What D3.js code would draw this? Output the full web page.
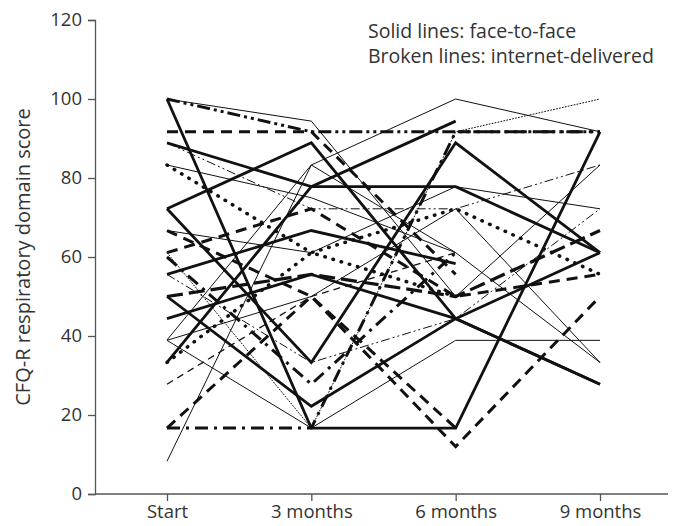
<!DOCTYPE html>
<html><head><meta charset="utf-8">
<script src="https://cdn.jsdelivr.net/npm/d3@7/dist/d3.min.js"></script>
<style>body{margin:0;background:#fff}svg{display:block}text{font-family:"Open Sans",Roboto,sans-serif;fill:#333}</style>
</head><body><svg id="c" width="682" height="526"></svg>
<script>
const categories = ["Start", "3 months", "6 months", "9 months"];
const yTicks = [0, 20, 40, 60, 80, 100, 120];
// One row per patient: scores at Start, 3, 6, 9 months (null = missing)
const patients = [
  [100, 94.4, 50, 83.3],
  [100, 91.7, 91.7, 91.7],
  [100, 16.7, 16.7, 91.7],
  [91.7, 91.7, 55.6, null],
  [88.9, 77.8, 77.8, 61.1],
  [72.2, 88.9, 44.4, 27.8],
  [72.2, 33.3, 88.9, 61.1],
  [33.3, 77.8, 94.4, null],
  [8.3, 83.3, 100, 91.7],
  [16.7, 16.7, 91.7, 91.7],
  [61.1, 16.7, 91.7, 100],
  [83.3, 75, 61.1, 33.3],
  [83.3, 61.1, 72.2, 55.6],
  [88.9, 72.2, 72.2, 83.3],
  [66.7, 61.1, 77.8, 72.2],
  [38.9, 16.7, 38.9, 38.9],
  [61.1, 72.2, 50, 55.6],
  [50, 55.6, 50, 66.7],
  [55.6, 66.7, 58.3, null],
  [50, 22.2, 44.4, 61.1],
  [44.4, 55.6, 44.4, 27.8],
  [38.9, 50, 72.2, 33.3],
  [60, 27.8, 61.1, null],
  [16.7, 50, 12, 50],
  [66.7, 50, 16.7, null],
  [27.8, 50, 61.1, null],
  [55.6, 33.3, 44.4, 72.2],
  [33.3, 61.1, 50, null],
  [39, 83.3, 61.1, null]
];
// Line pattern per patient (solid = face-to-face, broken = internet-delivered)
const patterns = [
  "thin", "dashdotdotThick", "thick", "dashThick", "thick", "thick", "thick", "thick",
  "thin", "dashdotThick", "dotThin", "thin", "dotThick", "dashdotdotThin", "thin", "thin",
  "dashThick", "dashLongThick", "thick", "thick", "thick", "thin", "dashdotThick", "dashThick",
  "dashThick", "dashThin", "dashdotdotThin", "dotThick", "thin"
];
const styleTable = {
  thin: {w: 1, d: null},
  thick: {w: 2.8, d: null},
  dashThick: {w: 3, d: "11,7"},
  dashLongThick: {w: 3.2, d: "16,6"},
  dashThin: {w: 1.3, d: "7,5"},
  dashdotThick: {w: 3, d: "13,6,3,6"},
  dashdotdotThick: {w: 3, d: "13,4,3,4,3,4"},
  dashdotdotThin: {w: 1, d: "9,3,2,3,2,3"},
  dotThick: {w: 3.5, d: "0.5,8"},
  dotThin: {w: 1, d: "1,2"}
};

const FONT = '"Open Sans",Roboto,sans-serif';
const svg = d3.select("#c");
const x = d3.scalePoint().domain(categories).range([167, 600]);
const y = d3.scaleLinear().domain([0, 120]).range([494, 20]);

const yAxis = svg.append("g").attr("transform", "translate(95,0)")
  .call(d3.axisLeft(y).tickValues(yTicks).tickSize(7).tickPadding(6));
const xAxis = svg.append("g").attr("transform", "translate(0,494)")
  .call(d3.axisBottom(x).tickSize(7).tickPadding(4));
xAxis.select(".domain").attr("d", "M95,0H668");
[yAxis, xAxis].forEach(g => {
  g.selectAll("path,line").attr("stroke", "#555").attr("stroke-width", 1.3);
  g.selectAll("text").attr("font-size", 18.5).attr("fill", "#333").style("font-family", FONT);
});

svg.append("text").attr("transform", "translate(30,257) rotate(-90)")
  .attr("text-anchor", "middle").attr("font-size", 20).text("CFQ-R respiratory domain score");

const line = d3.line().defined(d => d != null)
  .x((d, i) => x(categories[i])).y(d => y(d));
svg.append("g").selectAll("path").data(patients).join("path")
  .attr("d", d => line(d))
  .attr("fill", "none").attr("stroke", "#111")
  .attr("stroke-width", (d, i) => styleTable[patterns[i]].w)
  .attr("stroke-dasharray", (d, i) => styleTable[patterns[i]].d)
  .attr("stroke-linecap", (d, i) => patterns[i].startsWith("dot") ? "round" : "butt")
  .attr("stroke-linejoin", "miter");

const legend = ["Solid lines: face-to-face", "Broken lines: internet-delivered"];
svg.append("g").selectAll("text").data(legend).join("text")
  .attr("x", 368).attr("y", (d, i) => 38 + i * 25)
  .attr("font-size", 19.5).text(d => d);
</script></body></html>
